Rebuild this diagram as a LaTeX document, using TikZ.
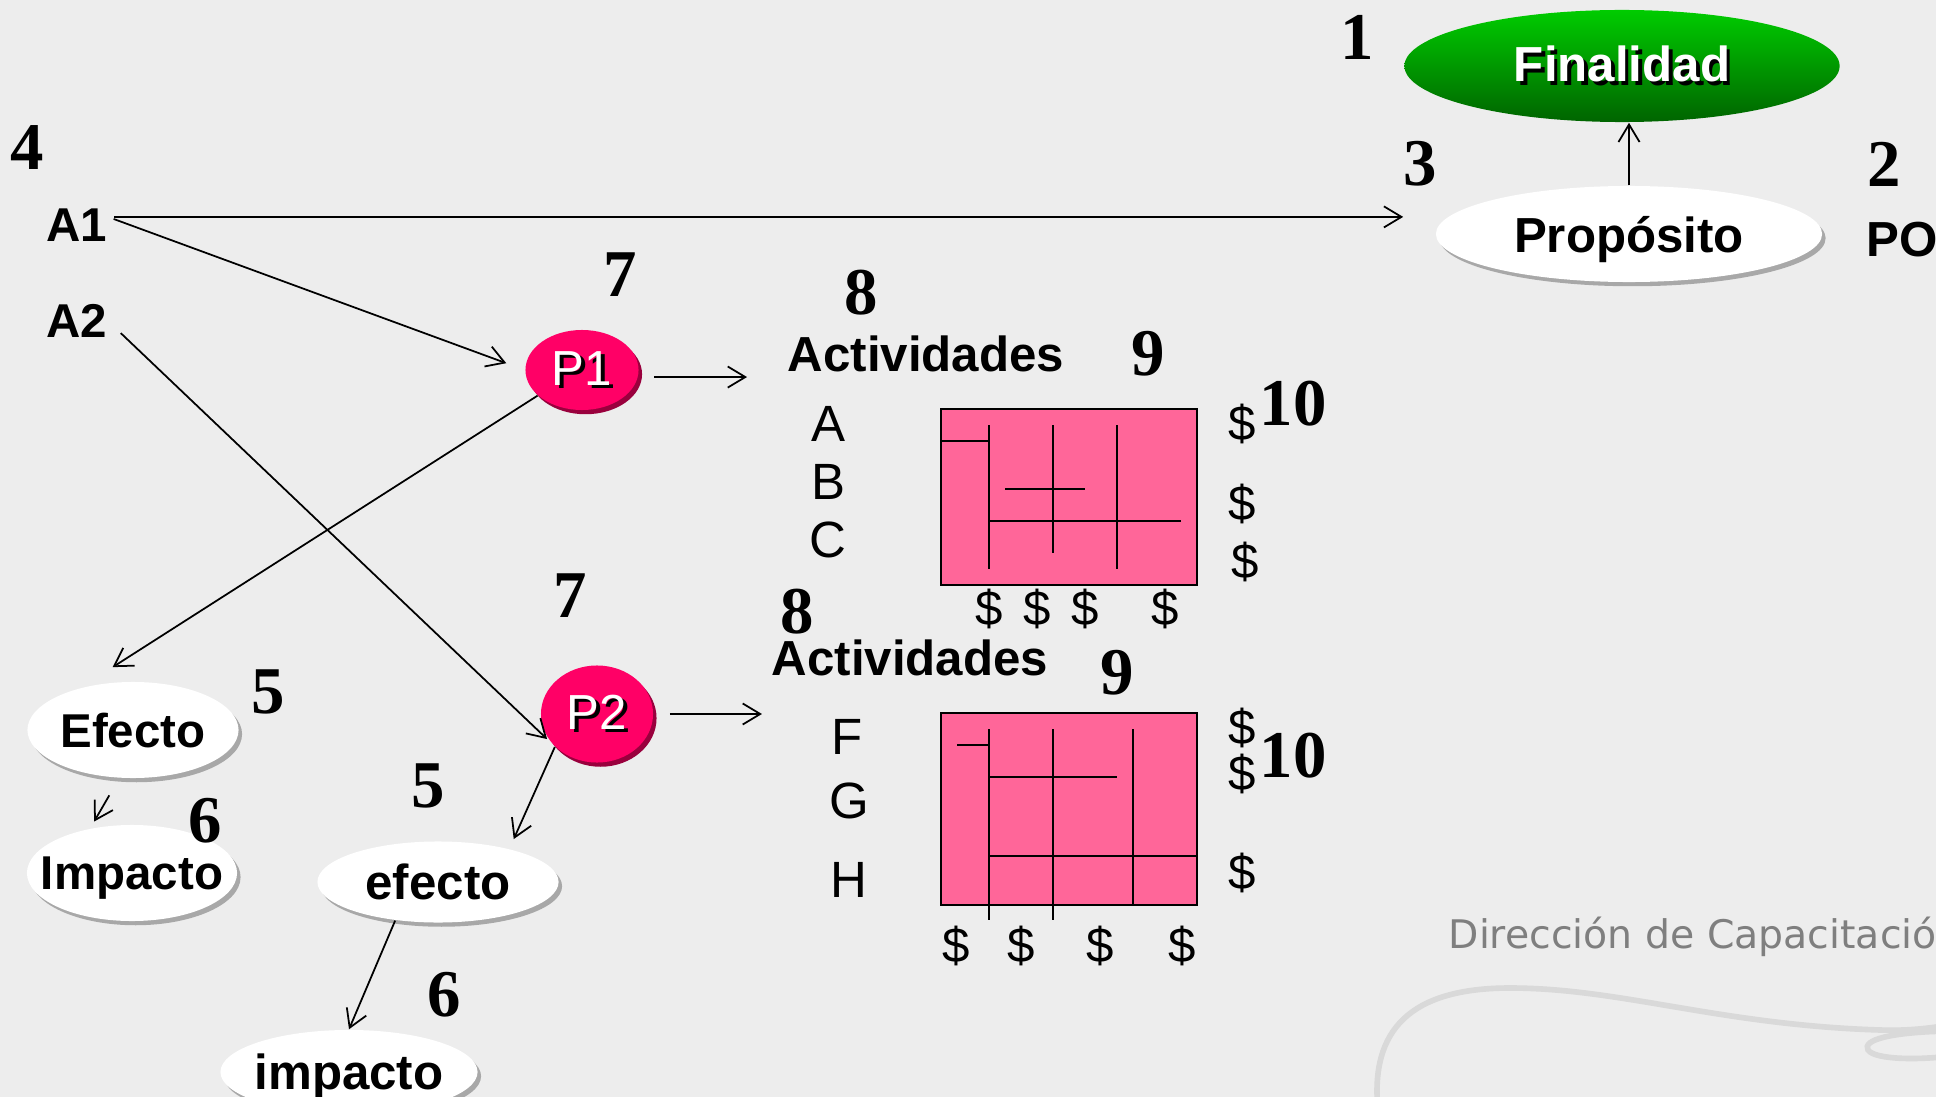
\documentclass[tikz,border=0pt]{standalone}
\usepackage{fontspec}
\setmainfont{Liberation Sans}
\newfontfamily\numfont{Liberation Serif}
\newfontfamily\pagefont{DejaVu Sans}
\usetikzlibrary{arrows.meta, shapes.geometric, shadows}
\definecolor{bggrey}{HTML}{EDEDED}
\definecolor{fingreen}{HTML}{00CC00}
\definecolor{findark}{HTML}{006400}
\definecolor{prodpink}{HTML}{FF0066}
\definecolor{prodshade}{HTML}{99003D}
\definecolor{tablepink}{HTML}{FF6699}
\definecolor{swooshgrey}{HTML}{D9D9D9}
\definecolor{footgrey}{HTML}{7F7F7F}
\newcommand\shtxt[1]{\makebox[0pt][l]{\hspace{1pt}\raisebox{-1pt}{\color{black}#1}}#1}

\begin{document}
\begin{tikzpicture}[x=0.01cm, y=-0.01cm,
  arr/.style={-{Straight Barb[length=5pt, width=6pt]}, line width=0.5pt},
  num/.style={font=\numfont\bfseries\fontsize{19}{20}\selectfont, inner sep=0pt},
  lbl/.style={font=\bfseries\fontsize{13.5}{15}\selectfont, inner sep=0pt},
  actitem/.style={font=\fontsize{14.5}{16}\selectfont, inner sep=0pt},
  cost/.style={font=\fontsize{14}{16}\selectfont, inner sep=0pt},
  oval/.style={ellipse, fill=white, inner sep=0pt, text depth=0pt,
    font=\bfseries\fontsize{14}{16}\selectfont,
    drop shadow={shadow xshift=1pt, shadow yshift=-1.2pt, fill=black!34, opacity=1}},
  prodnode/.style={ellipse, fill=prodpink, inner sep=0pt, text=white,
    font=\fontsize{14}{16}\selectfont,
    drop shadow={shadow xshift=1pt, shadow yshift=-1.2pt, fill=prodshade, opacity=1}},
  tabline/.style={line width=0.45pt}]

% Background
\fill[bggrey] (0,0) rectangle (1936,1097);
\useasboundingbox (0,0) rectangle (1936,1097);
\clip (0,0) rectangle (1936,1097);

% Footer swoosh and text
\draw[swooshgrey, line width=1.6pt]
  (1378,1110) .. controls (1370,1030) and (1410,988) .. (1510,988)
  .. controls (1620,988) and (1720,1025) .. (1880,1030)
  .. controls (1910,1031) and (1930,1028) .. (1950,1025);
\draw[swooshgrey, line width=1.6pt]
  (1950,1031) .. controls (1890,1032) and (1862,1040) .. (1868,1050)
  .. controls (1875,1060) and (1920,1060) .. (1950,1056);
\node[font=\pagefont\fontsize{11.2}{13}\selectfont, text=footgrey,
  anchor=base west, inner sep=0pt] (footer) at (1448,948)
  {Dirección de Capacitación};

% --- Top: Finalidad / Proposito ---
\node[ellipse, minimum width=4.35cm, minimum height=1.12cm, inner sep=0pt,
  top color=fingreen, bottom color=findark, text=white,
  font=\bfseries\fontsize{14}{16}\selectfont] (final) at (1622,66)
  {\shtxt{Finalidad}};
\node[oval, minimum width=3.86cm, minimum height=0.96cm] (prop) at (1629,234)
  {Propósito};
\node[lbl, font=\bfseries\fontsize{14}{16}\selectfont, anchor=west] (po) at (1866,240) {PO};

\node[num] (n1) at (1357,37) {1};
\node[num] (n2) at (1884,164) {2};
\node[num] (n3) at (1420,164) {3};
\node[num] (n4) at (27,148) {4};

% --- Left: A1, A2 ---
\node[lbl] (a1) at (77,225) {A1};
\node[lbl] (a2) at (77,321) {A2};

% --- Products ---
\node[prodnode, minimum width=1.13cm, minimum height=0.80cm] (p1) at (582,370)
  {\shtxt{P1}};
\node[prodnode, minimum width=1.12cm, minimum height=0.97cm] (p2) at (597,714)
  {\shtxt{P2}};
\node[num] (n7a) at (620,275) {7};
\node[num] (n7b) at (570,596) {7};

% --- Effects and impacts ---
\node[oval, font=\bfseries\fontsize{13.5}{15}\selectfont,
  minimum width=2.11cm, minimum height=0.96cm] (efecto1) at (133,730) {Efecto};
\node[oval, font=\bfseries\fontsize{13.5}{15}\selectfont,
  minimum width=2.10cm, minimum height=0.96cm] (impacto1) at (132,873)
  {\makebox[0pt]{Impacto}};
\node[oval, minimum width=2.41cm, minimum height=0.81cm] (efecto2) at (438,882) {efecto};
\node[oval, minimum width=2.57cm, minimum height=0.84cm] (impacto2) at (349,1072)
  {\makebox[0pt]{impacto}};
\node[num] (n5a) at (268,692) {5};
\node[num] (n6a) at (205,821) {6};
\node[num] (n5b) at (428,786) {5};
\node[num] (n6b) at (444,995) {6};

% --- Activities, first block ---
\node[lbl, font=\bfseries\fontsize{14}{16}\selectfont] (act1) at (926,354) {Actividades};
\node[num] (n8a) at (861,293) {8};
\node[num] (n9a) at (1148,354) {9};
\node[actitem] (ia) at (828,424) {A};
\node[actitem] (ib) at (828,482) {B};
\node[actitem] (ic) at (828,540) {C};

\draw[fill=tablepink, line width=0.6pt] (941,409) rectangle (1197,585);
\draw[tabline] (941,441) -- (989,441);
\draw[tabline] (989,425) -- (989,569);
\draw[tabline] (1053,425) -- (1053,553);
\draw[tabline] (1117,425) -- (1117,569);
\draw[tabline] (1005,489) -- (1085,489);
\draw[tabline] (989,521) -- (1181,521);

\node[cost] (c1) at (989,609) {\$};
\node[cost] (c2) at (1037,609) {\$};
\node[cost] (c3) at (1085,609) {\$};
\node[cost] (c4) at (1165,609) {\$};
\node[cost] (c5) at (1242,424) {\$};
\node[cost] (c6) at (1242,504) {\$};
\node[cost] (c7) at (1245,562) {\$};
\node[num] (n10a) at (1293,404) {10};

% --- Activities, second block ---
\node[lbl, font=\bfseries\fontsize{14}{16}\selectfont] (act2) at (910,658) {Actividades};
\node[num] (n8b) at (797,612) {8};
\node[num] (n9b) at (1117,673) {9};
\node[actitem] (iF) at (847,737) {F};
\node[actitem] (iG) at (849,801) {G};
\node[actitem] (iH) at (849,880) {H};

\draw[fill=tablepink, line width=0.6pt] (941,713) rectangle (1197,905);
\draw[tabline] (957,745) -- (989,745);
\draw[tabline] (989,729) -- (989,920);
\draw[tabline] (1053,729) -- (1053,920);
\draw[tabline] (1133,729) -- (1133,905);
\draw[tabline] (989,777) -- (1117,777);
\draw[tabline] (989,856) -- (1197,856);

\node[cost] (c8) at (956,946) {\$};
\node[cost] (c9) at (1021,946) {\$};
\node[cost] (c10) at (1100,946) {\$};
\node[cost] (c11) at (1182,946) {\$};
\node[cost] (c12) at (1242,728) {\$};
\node[cost] (c13) at (1242,774) {\$};
\node[cost] (c14) at (1242,873) {\$};
\node[num] (n10b) at (1293,756) {10};

% --- Connectors ---
\coordinate (a1out) at ([yshift=2.3pt]a1.east);
\draw[arr] (prop.north) -- (prop.north |- final.south);
\draw[arr, shorten <=1.7pt, shorten >=9.1pt] (a1out) -- (a1out -| prop.west);
\draw[arr, shorten <=1.7pt, shorten >=5.6pt] (a1out) -- (p1.west);
\draw[arr, shorten <=5pt, shorten >=5pt] (a2.east) -- (p2.225);
\draw[arr, shorten <=4.3pt, shorten >=11.4pt]
  ([yshift=-2pt]p1.east) -- ([yshift=-2pt]p1.east -| act1.west);
\draw[arr, shorten <=4.6pt, shorten >=2.6pt] (p2.east) -- (p2.east -| act2.west);
\draw[arr, shorten >=10.8pt] (p1.210) -- (efecto1.141);
\draw[arr, shorten <=5.6pt, shorten >=2.2pt] (efecto1.254) -- (impacto1.133);
\draw[arr, shorten >=3pt] (p2.218) -- (efecto2.25);
\draw[arr] (efecto2.222) -- (impacto2.north);

\end{tikzpicture}
\end{document}
